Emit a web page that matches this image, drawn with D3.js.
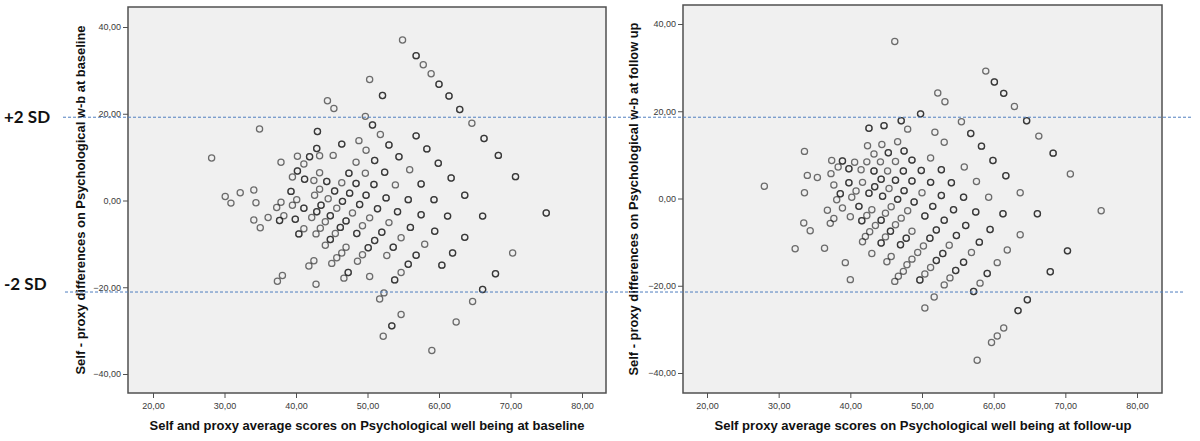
<!DOCTYPE html>
<html><head><meta charset="utf-8">
<script src="https://cdn.jsdelivr.net/npm/d3@7"></script>
<style>body{margin:0;background:#fff}svg{display:block}</style>
</head><body>
<svg id="c" width="1200" height="441"></svg>
<script>
// ---- data ----
const xTicks = [20, 30, 40, 50, 60, 70, 80];
const yTicks = [-40, -20, 0, 20, 40];
const sdLimits = [19.2, -21.1];
const sdLabels = ["+2 SD", "-2 SD"];
const leftXTitle = "Self and proxy average scores on Psychological well being at baseline";
const leftYTitle = "Self - proxy differences on Psychological w-b at baseline";
const rightXTitle = "Self proxy average scores on Psychological well being at follow-up";
const rightYTitle = "Self - proxy differences on Psychological w-b at follow up";
// [average, difference, cases at this point]
const baseline = [
[54.9,37.0,1],[56.8,33.4,2],[57.8,31.3,1],[58.9,29.2,1],[60.0,26.8,2],[61.4,24.1,2],[62.9,21.0,2],[64.6,17.8,1],[66.3,14.3,2],[68.3,10.4,2],[70.7,5.5,2],[75.0,-2.9,2],
[50.3,27.9,1],[52.1,24.2,2],[44.4,23.0,1],[45.3,21.2,1],[49.7,19.4,1],[50.7,17.4,2],[51.8,15.2,1],[53.0,12.8,2],[54.4,10.1,2],[55.9,7.1,1],[57.5,3.8,2],[59.3,0.2,2],[61.2,-3.6,2],[63.6,-8.5,2],[66.1,-3.6,2],[70.3,-12.1,1],[67.9,-16.9,2],[66.1,-20.5,2],[64.7,-23.3,1],[62.4,-28.0,1],[59.0,-34.6,1],
[56.8,14.9,2],[58.3,11.9,2],[59.9,8.6,2],[61.7,5.2,2],[63.6,1.2,2],[61.9,-12.1,2],[60.4,-14.9,2],[58.0,-10.1,1],[59.4,-7.1,2],[57.5,-3.3,2],[56.0,-6.2,2],[56.8,-12.6,2],[55.7,-14.7,2],[54.7,-16.6,1],[53.8,-18.3,2],[54.7,-26.3,1],[53.4,-28.9,2],[52.2,-31.3,1],[52.3,-21.3,1],[51.7,-22.7,1],[50.3,-17.5,1],[52.7,-12.7,1],[53.6,-10.8,2],[54.7,-8.6,1],[53.0,-5.1,1],[54.2,-2.6,2],[55.7,0.2,2],[53.9,3.6,1],[52.4,6.5,2],[51.0,9.2,2],[49.8,11.6,1],[48.8,13.8,1],[52.6,0.6,2],[50.9,3.7,2],[49.7,6.3,1],[48.4,8.8,1],[46.4,13.0,2],[45.2,10.4,1],[49.8,1.2,2],[48.4,3.9,2],[47.4,6.3,2],[46.4,4.1,1],[45.4,2.2,2],[44.3,4.4,2],[43.3,6.4,1],[42.5,4.6,1],[43.3,2.6,1],[42.6,1.2,1],[47.5,1.7,2],[46.5,-0.2,2],[44.5,0.4,1],[43.5,-1.1,2],[42.9,-2.6,2],[42.2,-3.9,1],[44.1,-4.9,1],[44.8,-3.5,2],[45.7,-1.8,1],[48.9,-0.9,2],[47.9,-2.9,1],[47.0,-4.7,2],[46.2,-6.2,2],[45.5,-7.6,1],[44.8,-9.0,2],[44.1,-10.3,1],[48.5,-7.6,2],[49.3,-5.8,1],[50.3,-4.0,1],[51.4,-1.9,2],[52.0,-7.3,2],[51.0,-9.2,2],[50.1,-10.9,2],[49.3,-12.5,1],[48.6,-14.0,1],[47.0,-10.8,1],[46.4,-12.1,1],[45.7,-13.2,1],[45.0,-14.5,1],[47.3,-16.6,2],[46.7,-17.9,1],[42.8,-19.3,1],[42.5,-13.9,1],[41.8,-15.1,1],[41.1,-6.5,1],[40.4,-7.7,2],[39.9,-4.3,2],[41.1,-1.8,2],[40.1,0.2,1],[39.5,-1.1,1],[39.3,2.1,2],[41.2,4.9,2],[40.2,6.8,2],[39.5,5.4,1],[41.1,8.4,1],[41.9,10.1,2],[40.2,10.2,1],[37.9,8.8,1],[42.9,12.0,2],[43.0,15.9,2],[43.3,10.3,1],[34.9,16.5,1],[28.2,9.8,1],[30.1,0.9,1],[30.9,-0.6,1],[32.2,1.8,1],[34.1,2.4,1],[34.4,-0.5,1],[34.1,-4.5,1],[35.0,-6.3,1],[36.1,-3.9,1],[37.3,-1.6,1],[37.9,-0.4,1],[37.7,-4.6,2],[38.3,-3.5,1],[37.4,-18.6,1],[38.1,-17.3,1],[42.8,-7.7,1],[43.4,-6.4,1]
];
const followup = [
[46.2,36.0,1],[58.9,29.2,1],[60.1,26.7,2],[61.4,24.1,2],[62.9,21.1,1],[64.6,17.8,2],[66.3,14.3,1],[68.3,10.4,2],[70.7,5.6,1],[75.0,-2.8,1],
[52.2,24.2,1],[53.2,22.2,1],[49.8,19.4,2],[55.5,17.6,1],[47.1,17.8,2],[48.0,15.9,1],[51.8,15.2,1],[56.8,14.9,2],[53.1,12.9,1],[58.3,12.0,2],[59.9,8.7,2],[61.7,5.2,2],[63.7,1.3,1],[66.1,-3.5,2],[70.3,-12.0,2],[67.9,-16.8,2],[64.7,-23.2,2],[63.4,-25.7,2],[61.4,-29.7,1],[60.5,-31.5,1],[59.7,-33.0,1],[57.7,-37.1,1],
[42.6,16.1,2],[44.7,16.7,2],[42.4,12.1,1],[44.4,12.4,1],[43.3,10.2,1],[45.3,10.5,2],[46.6,13.0,1],[47.5,10.9,2],[51.2,9.3,1],[48.6,8.8,2],[46.3,8.5,1],[44.2,8.4,1],[42.3,8.4,1],[40.6,8.3,1],[41.5,6.6,1],[43.3,6.3,2],[45.2,6.3,1],[47.4,6.3,2],[49.9,6.4,2],[52.7,6.6,2],[55.9,7.2,1],[57.6,3.9,1],[54.1,3.6,2],[51.2,3.7,2],[48.6,4.0,2],[46.3,4.2,2],[44.3,4.4,2],[43.4,2.7,2],[45.4,2.3,1],[47.5,1.8,2],[50.0,1.3,1],[52.7,0.7,2],[55.8,0.3,2],[59.3,0.3,1],[57.5,-3.1,2],[61.3,-3.5,2],[56.1,-6.2,2],[59.5,-7.1,2],[63.7,-8.3,1],[61.9,-11.8,1],[54.8,-8.5,2],[53.1,-5.0,2],[54.4,-2.6,2],[51.5,-1.8,2],[52.0,-7.2,2],[50.4,-4.0,2],[48.9,-0.8,2],[46.6,-0.2,2],[44.5,0.5,2],[42.6,1.2,2],[41.7,3.7,1],[39.8,3.6,2],[37.7,3.1,1],[40.8,1.7,1],[40.2,0.3,1],[38.6,1.1,2],[38.1,-0.3,1],[37.3,5.7,1],[37.4,8.7,1],[38.9,8.6,2],[39.8,6.8,2],[38.3,7.2,1],[33.6,10.8,1],[34.0,5.3,1],[35.4,4.8,1],[33.6,1.3,1],[28.0,2.8,1],[33.5,-5.6,1],[34.4,-7.4,1],[32.3,-11.5,1],[36.4,-11.4,1],[36.8,-2.7,1],[37.7,-4.6,1],[37.2,-5.7,1],[38.9,-2.2,1],[40.0,-4.2,1],[41.2,-1.8,2],[41.6,-5.1,2],[42.3,-3.9,1],[43.0,-2.6,1],[42.7,-7.6,1],[41.7,-9.9,1],[42.1,-8.7,1],[43.5,-6.2,1],[44.3,-5.0,2],[44.9,-3.4,1],[45.7,-1.9,1],[48.0,-2.8,1],[47.1,-4.5,1],[46.3,-6.0,1],[45.6,-7.5,2],[44.9,-8.8,1],[44.3,-10.2,2],[43.0,-12.6,1],[39.3,-14.7,1],[40.0,-18.6,1],[45.1,-14.5,1],[45.7,-13.3,1],[48.6,-7.5,1],[47.8,-9.1,2],[47.0,-10.6,2],[50.2,-10.9,1],[49.4,-12.4,1],[48.6,-13.9,1],[47.9,-15.2,1],[47.4,-16.7,1],[46.7,-17.8,1],[46.2,-19.0,1],[51.1,-9.1,2],[52.9,-12.6,2],[52.0,-14.2,2],[51.2,-15.8,1],[50.4,-17.3,1],[49.7,-18.7,2],[51.7,-22.6,1],[50.4,-25.1,1],[53.1,-19.8,1],[53.9,-18.2,1],[54.7,-16.5,2],[55.8,-14.6,2],[56.9,-12.4,1],[58.0,-10.0,2],[53.8,-10.7,1],[59.1,-17.2,2],[60.5,-14.7,1],[58.1,-19.4,1],[57.2,-21.3,2]
];

// ---- drawing ----
const svg = d3.select("#c");
const fmt = d => d3.format(".2f")(d).replace(".", ",");

function panel(cfg) {
  const x = d3.scaleLinear().domain([20, 80]).range(cfg.xr);
  const y = d3.scaleLinear().domain([-40, 40]).range(cfg.yr);
  const g = svg.append("g");
  g.append("rect").attr("x", cfg.fx[0]).attr("y", cfg.fy[0])
    .attr("width", cfg.fx[1] - cfg.fx[0]).attr("height", cfg.fy[1] - cfg.fy[0])
    .attr("fill", "#f0f0f0").attr("stroke", "#505050").attr("stroke-width", 1.5);
  const xa = g.append("g").attr("transform", `translate(0,${cfg.fy[1]})`)
    .call(d3.axisBottom(x).tickValues(xTicks).tickFormat(fmt).tickSize(5).tickPadding(5));
  const ya = g.append("g").attr("transform", `translate(${cfg.fx[0]},0)`)
    .call(d3.axisLeft(y).tickValues(yTicks).tickFormat(fmt).tickSize(5).tickPadding(2));
  [xa, ya].forEach(a => {
    a.select(".domain").remove();
    a.selectAll("line").attr("stroke", "#505050");
    a.selectAll("text").attr("font-family", "Liberation Sans, Arial, sans-serif")
      .attr("font-size", 9).attr("fill", "#3a3a3a");
  });
  const pts = [];
  cfg.data.forEach(d => { for (let i = 0; i < d[2]; i++) pts.push(d); });
  g.append("g").selectAll("circle").data(pts).join("circle")
    .attr("cx", d => x(d[0])).attr("cy", d => y(d[1])).attr("r", 3.1)
    .attr("fill", "none").attr("stroke", "#1a1a1a").attr("stroke-width", 1.25)
    .attr("stroke-opacity", 0.62);
  g.append("text").attr("x", cfg.xt[0]).attr("y", cfg.xt[1])
    .attr("text-anchor", "middle").attr("font-family", "Liberation Sans, Arial, sans-serif")
    .attr("font-weight", "bold").attr("font-size", 13).attr("fill", "#111")
    .attr("textLength", cfg.xt[2]).attr("lengthAdjust", "spacingAndGlyphs")
    .text(cfg.xTitle);
  g.append("text").attr("transform", `translate(${cfg.yt[0]},${cfg.yt[1]}) rotate(-90)`)
    .attr("text-anchor", "middle").attr("dominant-baseline", "middle")
    .attr("font-family", "Liberation Sans, Arial, sans-serif")
    .attr("font-weight", "bold").attr("font-size", 13).attr("fill", "#111")
    .attr("textLength", cfg.yt[2]).attr("lengthAdjust", "spacingAndGlyphs")
    .text(cfg.yTitle);
  return y;
}

const yLeft = panel({data: baseline, xr: [153, 582], yr: [374, 27], fx: [128, 606], fy: [7, 393],
  xt: [367, 430, 435], yt: [82, 200, 349], xTitle: leftXTitle, yTitle: leftYTitle});
panel({data: followup, xr: [707, 1137], yr: [373, 24], fx: [683, 1162], fy: [5, 393],
  xt: [923, 430, 417], yt: [635, 199, 353], xTitle: rightXTitle, yTitle: rightYTitle});

// +/- 2 SD reference lines across the figure
const spans = [[63, 1191], [65, 1183]];
svg.append("g").selectAll("line").data(sdLimits).join("line")
  .attr("x1", (d, i) => spans[i][0]).attr("x2", (d, i) => spans[i][1])
  .attr("y1", d => yLeft(d)).attr("y2", d => yLeft(d))
  .attr("stroke", "#4f7fbf").attr("stroke-width", 1).attr("stroke-dasharray", "3,2");
svg.append("g").selectAll("text").data(sdLimits).join("text")
  .attr("x", 4).attr("y", (d, i) => yLeft(d) + (i === 0 ? 6 : -2))
  .attr("font-family", "Lato, Open Sans, sans-serif").attr("font-weight", "bold")
  .attr("font-size", 17).attr("fill", "#111")
  .text((d, i) => sdLabels[i]);
</script>
</body></html>
